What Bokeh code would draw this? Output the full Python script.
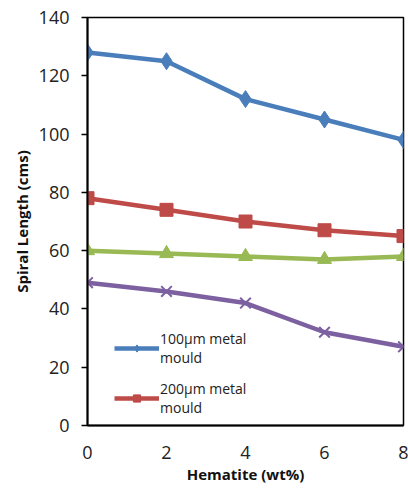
from bokeh.plotting import figure
from bokeh.models import Range1d, FixedTicker, Legend, LegendItem
from bokeh.embed import file_html
from bokeh.resources import INLINE

hematite = [0, 2, 4, 6, 8]
mould_100 = [128, 125, 112, 105, 98]
mould_200 = [78, 74, 70, 67, 65]
series_3 = [60, 59, 58, 57, 58]
series_4 = [49, 46, 42, 32, 27]
legend_labels = ["100\u00b5m metal\nmould", "200\u00b5m metal\nmould"]
y_ticks = [0, 20, 40, 60, 80, 100, 120, 140]

p = figure(width=408, height=488, output_backend="svg", toolbar_location=None,
           x_range=Range1d(0, 8), y_range=Range1d(0, 140),
           min_border_left=87, min_border_right=5, min_border_top=17, min_border_bottom=63)
p.xgrid.visible = False
p.ygrid.visible = False
p.outline_line_color = "black"
p.outline_line_width = 1.5
p.background_fill_color = "white"
p.border_fill_color = "white"

blue = "#4A7EBB"
red = "#BE4B48"
green = "#98B954"
purple = "#7D60A0"

l1 = p.line(hematite, mould_100, line_color=blue, line_width=4.5)
m1 = p.scatter(hematite, mould_100, marker="diamond", size=17, fill_color=blue, line_color=blue)
l2 = p.line(hematite, mould_200, line_color=red, line_width=4.5)
m2 = p.scatter(hematite, mould_200, marker="square", size=13, fill_color=red, line_color=red)
l3 = p.line(hematite, series_3, line_color=green, line_width=4.5)
p.scatter(hematite, series_3, marker="triangle", size=14, fill_color=green, line_color=green)
l4 = p.line(hematite, series_4, line_color=purple, line_width=4.5)
p.scatter(hematite, series_4, marker="x", size=15, line_color=purple, line_width=2)

# legend glyph-only renderers (small markers)
lm1 = p.scatter([-10], [-10], marker="diamond", size=8, fill_color=blue, line_color=blue)
lm2 = p.scatter([-10], [-10], marker="square", size=9, fill_color=red, line_color=red)

legend = Legend(items=[LegendItem(label=legend_labels[0], renderers=[l1, lm1]),
                       LegendItem(label=legend_labels[1], renderers=[l2, lm2])],
                location=(27, 8), border_line_color=None,
                background_fill_color="white", background_fill_alpha=1,
                label_text_font="Open Sans", label_text_font_size="14px",
                label_text_color="#222222", glyph_width=45, glyph_height=18,
                label_standoff=1, spacing=12, padding=6, margin=0,
                label_text_line_height=1.4)
p.add_layout(legend, "center")

p.xaxis.ticker = FixedTicker(ticks=hematite)
p.yaxis.ticker = FixedTicker(ticks=y_ticks)
for ax in (p.xaxis, p.yaxis):
    ax.axis_line_color = "black"
    ax.axis_line_width = 2
    ax.major_tick_line_color = "black"
    ax.major_tick_line_width = 1.5
    ax.minor_tick_line_color = None
    ax.major_label_text_font = "Open Sans"
    ax.major_label_text_font_size = "18px"
    ax.major_label_text_color = "#222222"
    ax.axis_label_text_font = "Open Sans"
    ax.axis_label_text_font_style = "bold"
    ax.axis_label_text_font_size = "15px"
    ax.axis_label_text_color = "#111111"

p.xaxis.major_tick_out = 0
p.xaxis.major_tick_in = 0
p.xaxis.major_label_standoff = 20
p.xaxis.axis_label = "Hematite (wt%)"
p.xaxis.axis_label_standoff = 2

p.yaxis.major_tick_out = 6
p.yaxis.major_tick_in = 0
p.yaxis.major_label_standoff = 12
p.yaxis.axis_label = "Spiral Length (cms)"
p.yaxis.axis_label_standoff = 4

open("out.html", "w").write(file_html(p, INLINE))
